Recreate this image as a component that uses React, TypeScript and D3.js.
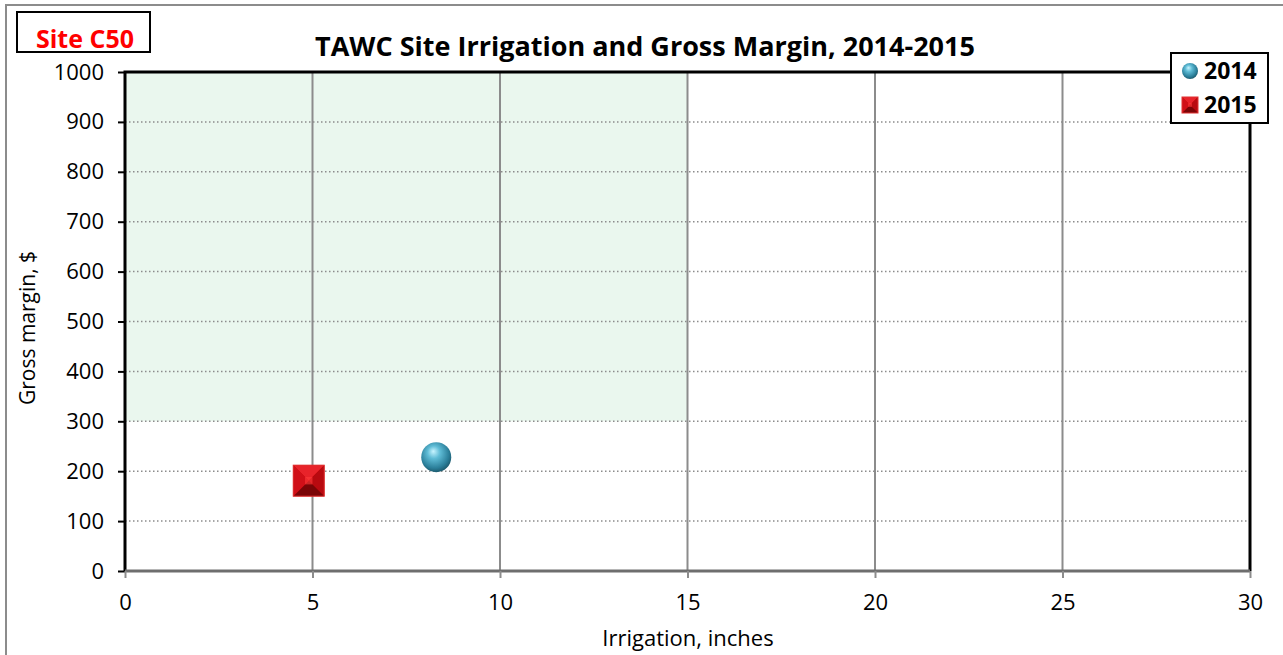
import { useEffect, useRef } from "react";
import * as d3 from "d3";

const xTicks = [0, 5, 10, 15, 20, 25, 30];
const yTicks = [0, 100, 200, 300, 400, 500, 600, 700, 800, 900, 1000];
const series = ["2014", "2015"];
const irrigation = [8.3, 4.9];
const grossMargin = [228, 181];
const targetZone = { x0: 0, x1: 15, y0: 300, y1: 1000 };

export default function App() {
  const svgRef = useRef<SVGSVGElement | null>(null);

  useEffect(() => {
    const width = 1283;
    const height = 655;
    const font = "'Open Sans', 'Liberation Sans', sans-serif";
    const svg = d3.select(svgRef.current);
    svg.selectAll("*").remove();
    svg.attr("width", width).attr("height", height);

    const defs = svg.append("defs");
    const sph = defs
      .append("radialGradient")
      .attr("id", "sphere")
      .attr("cx", "45%")
      .attr("cy", "40%")
      .attr("r", "60%")
      .attr("fx", "40%")
      .attr("fy", "30%");
    sph.append("stop").attr("offset", "0%").attr("stop-color", "#c8f4ff");
    sph.append("stop").attr("offset", "35%").attr("stop-color", "#5fbcd6");
    sph.append("stop").attr("offset", "80%").attr("stop-color", "#2b7f9a");
    sph.append("stop").attr("offset", "100%").attr("stop-color", "#1d5c70");

    svg.append("rect").attr("width", width).attr("height", height).attr("fill", "#fff");
    // outer chart border
    svg
      .append("rect")
      .attr("x", 6)
      .attr("y", 5)
      .attr("width", width + 10)
      .attr("height", height + 10)
      .attr("fill", "none")
      .attr("stroke", "#8c8c8c")
      .attr("stroke-width", 2);

    const x = d3.scaleLinear().domain([0, 30]).range([125, 1250]);
    const y = d3.scaleLinear().domain([0, 1000]).range([571, 72]);

    // target zone
    svg
      .append("rect")
      .attr("x", x(targetZone.x0))
      .attr("y", y(targetZone.y1))
      .attr("width", x(targetZone.x1) - x(targetZone.x0))
      .attr("height", y(targetZone.y0) - y(targetZone.y1))
      .attr("fill", "#eaf7ee");

    // gridlines
    svg
      .append("g")
      .selectAll("line")
      .data(yTicks.filter((t) => t > 0 && t < 1000))
      .join("line")
      .attr("x1", x(0))
      .attr("x2", x(30))
      .attr("y1", (d) => y(d))
      .attr("y2", (d) => y(d))
      .attr("stroke", "#8c8c8c")
      .attr("stroke-width", 1.5)
      .attr("stroke-dasharray", "1.5,2.5");
    svg
      .append("g")
      .selectAll("line")
      .data(xTicks.filter((t) => t > 0 && t < 30))
      .join("line")
      .attr("x1", (d) => x(d))
      .attr("x2", (d) => x(d))
      .attr("y1", y(1000))
      .attr("y2", y(0))
      .attr("stroke", "#8c8c8c")
      .attr("stroke-width", 2);

    // plot border
    svg
      .append("path")
      .attr("d", `M${x(0)},${y(0)}V${y(1000)}H${x(30)}V${y(0)}`)
      .attr("fill", "none")
      .attr("stroke", "#000")
      .attr("stroke-width", 3);
    svg
      .append("line")
      .attr("x1", x(0))
      .attr("x2", x(30))
      .attr("y1", y(0))
      .attr("y2", y(0))
      .attr("stroke", "#6e6e6e")
      .attr("stroke-width", 3);

    // y axis
    const yAxis = svg
      .append("g")
      .attr("transform", `translate(${x(0)},0)`)
      .call(d3.axisLeft(y).tickValues(yTicks).tickFormat(d3.format("d")).tickSize(7).tickPadding(14));
    yAxis.select(".domain").remove();
    yAxis.selectAll(".tick line").attr("stroke", "#000").attr("stroke-width", 2);
    yAxis.selectAll("text").attr("font-size", 22).attr("font-family", font).attr("fill", "#000");

    // x axis
    const xAxis = svg
      .append("g")
      .attr("transform", `translate(0,${y(0)})`)
      .call(d3.axisBottom(x).tickValues(xTicks).tickSize(7).tickPadding(16));
    xAxis.select(".domain").remove();
    xAxis.selectAll(".tick line").attr("stroke", "#8c8c8c").attr("stroke-width", 2);
    xAxis.selectAll("text").attr("font-size", 22).attr("font-family", font).attr("fill", "#000");

    // pyramid square marker
    const pyramid = (g: d3.Selection<SVGGElement, unknown, null, undefined>, cx: number, cy: number, s: number) => {
      const h = s / 2;
      const inner = s * 0.12;
      g.append("rect")
        .attr("x", cx - h)
        .attr("y", cy - h)
        .attr("width", s)
        .attr("height", s)
        .attr("fill", "#c00000");
      const faces = [
        { pts: [[-h, -h], [h, -h], [0, 0]], c: "#e8232a" },
        { pts: [[h, -h], [h, h], [0, 0]], c: "#b80a10" },
        { pts: [[h, h], [-h, h], [0, 0]], c: "#7a0507" },
        { pts: [[-h, h], [-h, -h], [0, 0]], c: "#d01018" },
      ];
      faces.forEach((f) =>
        g
          .append("polygon")
          .attr("points", f.pts.map((p) => `${cx + p[0]},${cy + p[1]}`).join(" "))
          .attr("fill", f.c)
      );
      g.append("rect")
        .attr("x", cx - inner)
        .attr("y", cy - inner)
        .attr("width", inner * 2)
        .attr("height", inner * 2)
        .attr("fill", "#ff3b3b")
        .attr("opacity", 0.6);
      g.append("rect")
        .attr("x", cx - h)
        .attr("y", cy - h)
        .attr("width", s)
        .attr("height", s)
        .attr("fill", "none")
        .attr("stroke", "#e03030")
        .attr("stroke-width", 1);
    };
    const sphere = (g: d3.Selection<SVGGElement, unknown, null, undefined>, cx: number, cy: number, r: number) => {
      g.append("circle").attr("cx", cx).attr("cy", cy).attr("r", r).attr("fill", "url(#sphere)");
    };

    const pts = svg.append("g");
    series.forEach((s, i) => {
      const cx = x(irrigation[i]);
      const cy = y(grossMargin[i]);
      if (s === "2014") sphere(pts, cx, cy, 15);
      else pyramid(pts, cx, cy, 31);
    });

    // title
    svg
      .append("text")
      .attr("x", 645)
      .attr("y", 56)
      .attr("text-anchor", "middle")
      .attr("font-family", font)
      .attr("font-weight", "bold")
      .attr("font-size", 27)
      .text("TAWC Site Irrigation and Gross Margin, 2014-2015");

    // site box
    svg
      .append("rect")
      .attr("x", 17)
      .attr("y", 12)
      .attr("width", 133)
      .attr("height", 40)
      .attr("fill", "#fff")
      .attr("stroke", "#000")
      .attr("stroke-width", 2);
    svg
      .append("text")
      .attr("x", 85)
      .attr("y", 48)
      .attr("text-anchor", "middle")
      .attr("font-family", font)
      .attr("font-weight", "bold")
      .attr("font-size", 25)
      .attr("fill", "#ff0000")
      .text("Site C50");

    // legend
    const lg = svg.append("g");
    lg.append("rect")
      .attr("x", 1171)
      .attr("y", 53)
      .attr("width", 97)
      .attr("height", 70)
      .attr("fill", "#fff")
      .attr("stroke", "#000")
      .attr("stroke-width", 2);
    series.forEach((s, i) => {
      const cy = 71 + i * 34;
      if (s === "2014") sphere(lg, 1190, cy, 8);
      else pyramid(lg, 1190, cy, 16);
      lg.append("text")
        .attr("x", 1204)
        .attr("y", cy + 8)
        .attr("font-family", font)
        .attr("font-weight", "bold")
        .attr("font-size", 23)
        .text(s);
    });

    // axis titles
    svg
      .append("text")
      .attr("x", 688)
      .attr("y", 646)
      .attr("text-anchor", "middle")
      .attr("font-family", font)
      .attr("font-size", 22)
      .text("Irrigation, inches");
    svg
      .append("text")
      .attr("transform", `translate(35,${328}) rotate(-90)`)
      .attr("text-anchor", "middle")
      .attr("font-family", font)
      .attr("font-size", 21)
      .text("Gross margin, $");
  }, []);

  return (
    <div style={{ position: "absolute", left: 0, top: 0 }}>
      <svg ref={svgRef}></svg>
    </div>
  );
}
